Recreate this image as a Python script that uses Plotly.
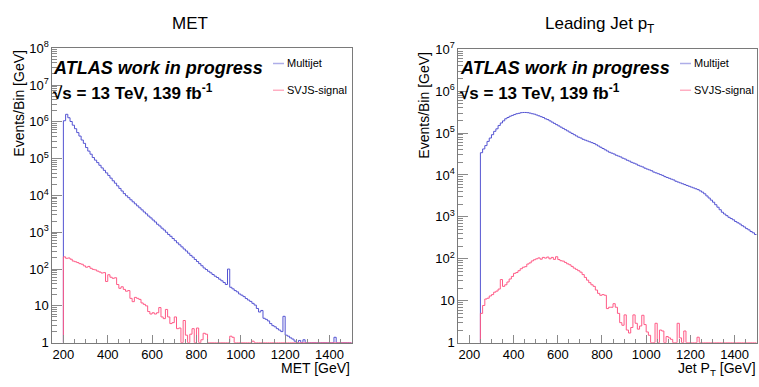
import plotly.graph_objects as go

# ---------------- data (10 GeV bins) ----------------
BIN_WIDTH = 10

met_start = 200
met_multijet = [
    1070000, 1600000, 1290000, 1020000, 810000, 650000, 510000, 410000, 320000, 260000,
    200000, 160000, 132000, 107000, 91000, 78000, 66000, 56000, 48000, 41000,
    35000, 29500, 25000, 21500, 18200, 15500, 13200, 11200, 9800, 8700,
    7600, 6700, 5900, 5200, 4600, 4050, 3550, 3150, 2750, 2450,
    2150, 1900, 1650, 1480, 1290, 1150, 1000, 870, 775, 675,
    590, 515, 455, 400, 350, 310, 270, 235, 210, 182,
    160, 140, 123, 107, 97, 87, 79, 71, 64, 59,
    53, 48, 43, 38, 100, 32, 29, 26, 24, 21,
    19.5, 17.8, 15.8, 14.4, 13.2, 11.7, 10.5, 8.5, 6.8, 7.5,
    4.6, 4.3, 3.9, 3.3, 2.9, 2.7, 2.4, 2.2, 2.0, 5.2,
    1.6, 1.5, 1.35, 1.25, 1.1, 0, 1.15, 0, 1.2, 0,
    0, 0, 0, 0, 0, 0, 0, 0, 0, 0,
    0, 0, 1.4, 0, 0, 0, 0, 0, 0, 0,
]
met_signal = [
    214, 196, 200, 185, 165, 158, 150, 140, 135, 122,
    112, 118, 105, 98, 95, 88, 83, 78, 80, 46,
    70, 60, 56, 58, 38, 30, 33, 28, 25, 26,
    16, 13, 17, 16, 15, 12, 11, 10, 7, 6,
    6.5, 6, 6.5, 9, 5, 4.5, 8, 5, 3.3, 3.5,
    5, 2.4, 2.5, 0, 4, 1.6, 0, 1.7, 2.4, 0,
    2.5, 0, 1.2, 1.8, 1.7, 0, 0, 0, 0, 0,
    0, 0, 0, 0, 0, 1.5, 1.4, 0, 0, 0,
    0, 0, 0, 0, 0, 1.1, 0, 0, 0, 0,
    0, 0, 0, 0, 0, 0, 0, 0, 0, 0,
    0, 0, 0, 0, 0, 0, 0, 0, 0, 0,
    0, 0, 0, 0, 0, 0, 0, 0, 0, 0,
    0, 0, 0, 0, 0, 0, 0, 0, 0, 0,
]

pt_start = 250
pt_multijet = [
    33900, 41700, 50100, 63100, 75900, 91200, 109600, 125900, 151400, 173800,
    195000, 218800, 234400, 251200, 263000, 275400, 288400, 295100, 305500, 309000,
    309000, 305500, 298500, 288400, 281800, 269200, 257000, 245500, 234400, 218800,
    208900, 195000, 182000, 169800, 158500, 147900, 138000, 128800, 120200, 112200,
    104700, 97700, 91200, 85100, 79400, 75900, 70800, 67600, 64600, 61700,
    58900, 56200, 52500, 49000, 45700, 42700, 39800, 37200, 34700, 33100,
    31600, 29500, 28200, 26900, 25100, 24000, 22400, 21400, 20000, 19100,
    18200, 17000, 16200, 15500, 14500, 13800, 13200, 12600, 11700, 11200,
    10700, 10200, 9770, 9120, 8710, 8320, 7940, 7590, 7080, 6760,
    6460, 6170, 5890, 5620, 5370, 5130, 4900, 4680, 4470, 4170,
    3890, 3550, 3160, 2820, 2510, 2240, 1950, 1700, 1480, 1290,
    1170, 1070, 977, 912, 851, 776, 724, 676, 617, 575,
    525, 490, 447, 417, 380,
]
pt_signal = [
    5, 7.7, 11, 11.5, 13, 14, 16, 17, 19, 32,
    22, 24, 28, 33, 38, 45, 47, 52, 58, 63,
    65, 75, 80, 89, 95, 100, 105, 98, 108, 104,
    110, 100, 108, 97, 112, 96, 90, 88, 82, 76,
    72, 66, 60, 56, 52, 48, 42, 36, 31, 27,
    24, 22, 18, 15, 13.5, 14, 13.5, 6.5, 7, 7,
    8.5, 7, 5, 3.0, 2.6, 4.6, 2.0, 1.7, 2.3, 4.6,
    2.9, 2.1, 2.5, 4.5, 2.7, 1.8, 1.5, 0, 0, 2.9,
    0, 2.0, 1.9, 0, 1.4, 1.3, 1.2, 0, 0, 2.9,
    1.3, 0, 1.9, 0, 0, 0, 0, 0, 1.35, 0,
    0, 0, 0, 0, 0, 0, 0, 0, 0, 0,
    0, 0, 0, 0, 0, 0, 0, 0, 0, 0,
    0, 0, 0, 0, 0,
]

x_range = [150, 1500]
left_decades = 8
right_decades = 7
series_names = ["Multijet", "SVJS-signal"]

# ---------------- style ----------------
W, H = 759, 387
FONT = "Liberation Sans, Arial, Helvetica, sans-serif"
BLUE = "#5454d2"
PINK = "#ff5a86"
BLUE_LEG = "#aeaee8"
PINK_LEG = "#ffaec2"
FRAME = "#7a7a7a"
TICK = "#8a8a8a"


def px(x):
    return x / W


def py(y):
    return 1 - y / H


def step(start, vals, floor=1.0):
    edges = [start + BIN_WIDTH * i for i in range(len(vals) + 1)]
    disp = [max(v, floor) for v in vals]
    xs = [edges[0]] + edges[:-1] + [edges[-1]]
    ys = [floor] + disp + [disp[-1]]
    return xs, ys


fig = go.Figure()
for start, vals, color, name, xa, ya in [
    (met_start, met_multijet, BLUE, series_names[0], "x", "y"),
    (met_start, met_signal, PINK, series_names[1], "x", "y"),
    (pt_start, pt_multijet, BLUE, series_names[0], "x2", "y2"),
    (pt_start, pt_signal, PINK, series_names[1], "x2", "y2"),
]:
    xs, ys = step(start, vals)
    fig.add_trace(go.Scatter(x=xs, y=ys, mode="lines", line=dict(color=color, width=1, shape="hv"),
                             name=name, showlegend=False, xaxis=xa, yaxis=ya, hoverinfo="skip"))


def ylabels(n):
    vals = [10 ** k for k in range(n + 1)]
    text = ["1", "10"] + ["10<sup>%d</sup>" % k for k in range(2, n + 1)]
    minors = [m * 10 ** k for k in range(n) for m in range(2, 10)]
    return vals, text, minors


def xaxis_cfg(domain, anchor):
    return dict(domain=domain, anchor=anchor, range=x_range, tickmode="linear", tick0=0, dtick=200,
                ticks="inside", ticklen=8, tickcolor=TICK, tickwidth=1,
                minor=dict(tickmode="linear", tick0=0, dtick=50, ticks="inside", ticklen=4,
                           tickcolor=TICK, showgrid=False),
                showline=True, mirror=True, linecolor=FRAME, linewidth=1,
                showgrid=False, zeroline=False, tickfont=dict(size=13, color="black", family=FONT))


def yaxis_cfg(domain, anchor, n):
    vals, text, minors = ylabels(n)
    return dict(domain=domain, anchor=anchor, type="log", range=[0, n], tickmode="array",
                tickvals=vals, ticktext=text, ticks="inside", ticklen=10, tickcolor=TICK, tickwidth=1,
                minor=dict(tickmode="array", tickvals=minors, ticks="inside", ticklen=5,
                           tickcolor=TICK, showgrid=False),
                showline=True, mirror=True, linecolor=FRAME, linewidth=1,
                showgrid=False, zeroline=False, tickfont=dict(size=13, color="black", family=FONT))


fig.update_layout(
    width=W, height=H, margin=dict(l=0, r=0, t=0, b=0),
    paper_bgcolor="white", plot_bgcolor="white",
    font=dict(family=FONT, color="black"),
    xaxis=xaxis_cfg([px(52.3), px(351.7)], "y"),
    yaxis=yaxis_cfg([py(349), py(41)], "x", left_decades),
    xaxis2=xaxis_cfg([px(458.3), px(756.7)], "y2"),
    yaxis2=yaxis_cfg([py(349), py(42)], "x2", right_decades),
    showlegend=False,
)

ann = []


def text(t, x, y, size, xanchor="center", yanchor="middle", angle=0):
    ann.append(dict(text=t, x=px(x), y=py(y), xref="paper", yref="paper", showarrow=False,
                    xanchor=xanchor, yanchor=yanchor, textangle=angle,
                    font=dict(size=size, family=FONT, color="black")))


# titles
text("MET", 190, 15, 17)
text("Leading Jet p<sub>T</sub>", 599, 17, 17)
# axis titles
text("Events/Bin [GeV]", 19, 41, 14, yanchor="top", angle=-90)
text("Events/Bin [GeV]", 424, 42, 14, yanchor="top", angle=-90)
text("MET [GeV]", 351.5, 375, 14, xanchor="right")
text("Jet P<sub>T</sub> [GeV]", 757.5, 377, 14, xanchor="right")
# ATLAS labels
for x0 in (51, 458):
    text("<b><i>ATLAS work in progress</i></b>", x0, 62, 18, xanchor="left")
    text("<b>√s = 13 TeV, 139 fb<sup>-1</sup></b>", x0, 87, 17, xanchor="left")

# legends
shapes = []
for lx, tx in ((273, 285), (680, 692)):
    for (yy, col, name) in ((57, BLUE_LEG, series_names[0]), (85, PINK_LEG, series_names[1])):
        shapes.append(dict(type="line", xref="paper", yref="paper", x0=px(lx), x1=px(lx + 11),
                           y0=py(yy), y1=py(yy), line=dict(color=col, width=1.5)))
        text(name, tx, yy, 11, xanchor="left")

fig.update_layout(annotations=ann, shapes=shapes)
fig.write_html("out.html", config={"displayModeBar": False, "staticPlot": True},
               post_script="document.body.style.margin='0px';document.body.style.overflow='hidden';")
